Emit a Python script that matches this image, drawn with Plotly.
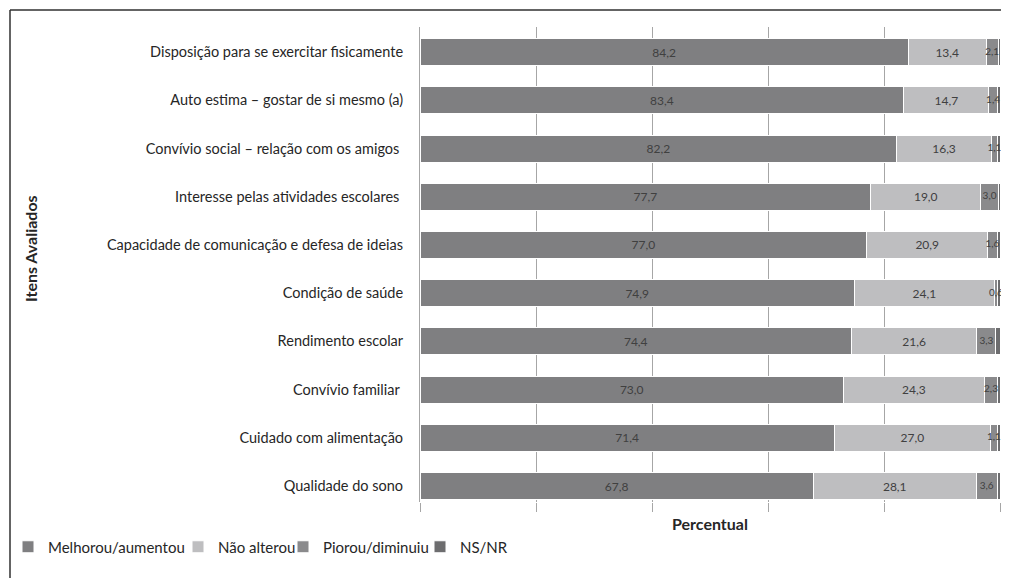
import plotly.graph_objects as go

# itens avaliados (top to bottom as in the chart)
itens = [
    "Disposição para se exercitar fisicamente",
    "Auto estima – gostar de si mesmo (a)",
    "Convívio social – relação com os amigos\u00a0",
    "Interesse pelas atividades escolares\u00a0",
    "Capacidade de comunicação e defesa de ideias",
    "Condição de saúde",
    "Rendimento escolar",
    "Convívio familiar\u00a0",
    "Cuidado com alimentação",
    "Qualidade do sono",
]

melhorou = [84.2, 83.4, 82.2, 77.7, 77.0, 74.9, 74.4, 73.0, 71.4, 67.8]
nao_alterou = [13.4, 14.7, 16.3, 19.0, 20.9, 24.1, 21.6, 24.3, 27.0, 28.1]
piorou = [2.1, 1.4, 1.1, 3.0, 1.6, 0.6, 3.3, 2.3, 1.1, 3.6]
ns_nr = [0.3, 0.5, 0.4, 0.3, 0.5, 0.4, 0.7, 0.4, 0.5, 0.5]

series = [
    ("Melhorou/aumentou", melhorou, "#7f7f81"),
    ("Não alterou", nao_alterou, "#bebec0"),
    ("Piorou/diminuiu", piorou, "#8a8a8c"),
    ("NS/NR", ns_nr, "#6d6d6f"),
]

FONT = "Lato, 'Noto Sans', sans-serif"

# the page puts the figure 8px in from the top-left corner
OFF = 8
W, H = 1009 - OFF, 578 - OFF
L, R, T, B = 420 - OFF, 9, 27 - OFF, 578 - 502
pw, ph = W - L - R, H - T - B


def px(x):
    # screen x -> paper x
    return (x - OFF - L) / pw


def py(y):
    # screen y -> paper y
    return (H - B - (y - OFF)) / ph


def fmt(v):
    return f"{v:.1f}".replace(".", ",")


# legend text start positions (screen px), one legend per series
legend_text_x = [48, 218, 323, 460]
legend_names = ["legend", "legend2", "legend3", "legend4"]

fig = go.Figure()
for i, (name, vals, color) in enumerate(series):
    big = i < 2
    fig.add_trace(
        go.Bar(
            y=itens,
            x=vals,
            name=name,
            orientation="h",
            marker=dict(color=color, line=dict(color="white", width=1)),
            text=[fmt(v) for v in vals] if big else None,
            textposition="inside" if big else "none",
            insidetextanchor="middle",
            textangle=0,
            constraintext="none",
            textfont=dict(size=12, color="#404040", family=FONT),
            hoverinfo="x+name",
            legend=legend_names[i],
        )
    )

# labels of the thin "Piorou/diminuiu" segments, drawn above the bars
piorou_mid = [m + n + p / 2 for m, n, p in zip(melhorou, nao_alterou, piorou)]
fig.add_trace(
    go.Scatter(
        x=piorou_mid,
        y=itens,
        mode="text",
        text=[fmt(v) for v in piorou],
        textposition="middle center",
        textfont=dict(size=10, color="#404040", family=FONT),
        showlegend=False,
        hoverinfo="skip",
        cliponaxis=False,
    )
)

legend_common = dict(
    orientation="h",
    xanchor="left",
    yanchor="middle",
    y=py(547),
    font=dict(size=15, color="#262626"),
    bgcolor="rgba(0,0,0,0)",
    entrywidth=170,
    visible=True,
)
legends = {
    ln: dict(legend_common, x=px(tx - 40))
    for ln, tx in zip(legend_names, legend_text_x)
}

fig.update_layout(
    width=W,
    height=H,
    margin=dict(l=L, r=R, t=T, b=B, autoexpand=False),
    showlegend=True,
    barmode="stack",
    bargap=0.44,
    plot_bgcolor="white",
    paper_bgcolor="white",
    font=dict(family=FONT, size=14, color="#262626"),
    xaxis=dict(
        range=[0, 100],
        dtick=20,
        showgrid=True,
        gridcolor="#a6a6a6",
        gridwidth=1,
        zeroline=False,
        showticklabels=False,
        ticks="outside",
        ticklen=9,
        tickcolor="#a6a6a6",
        showline=False,
    ),
    yaxis=dict(
        categoryorder="array",
        categoryarray=itens,
        range=[9.33, -0.52],
        showgrid=False,
        ticks="",
        ticklabelstandoff=13,
        tickfont=dict(size=14.5, color="#262626"),
        showline=True,
        linecolor="#a6a6a6",
        linewidth=1,
    ),
    annotations=[
        dict(
            text="<b>Itens Avaliados</b>",
            x=px(31),
            y=py(249),
            xref="paper",
            yref="paper",
            xanchor="center",
            yanchor="middle",
            textangle=-90,
            showarrow=False,
            font=dict(size=16, color="#262626"),
        ),
        dict(
            text="<b>Percentual</b>",
            x=px(710),
            y=py(523),
            xref="paper",
            yref="paper",
            xanchor="center",
            yanchor="middle",
            showarrow=False,
            font=dict(size=16, color="#262626"),
        ),
    ],
    shapes=[
        dict(type="line", xref="paper", yref="paper",
             x0=px(10), x1=px(10), y0=py(10), y1=py(600),
             line=dict(color="#303030", width=1.5)),
        dict(type="line", xref="paper", yref="paper",
             x0=px(10), x1=px(1030), y0=py(10), y1=py(10),
             line=dict(color="#303030", width=1.5)),
    ],
    **legends,
)

fig.write_html("out.html")
